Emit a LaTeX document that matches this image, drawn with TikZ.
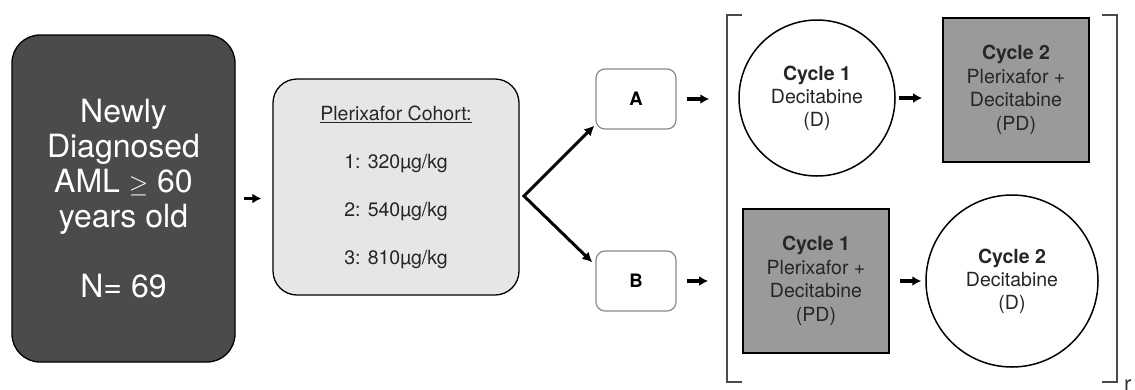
\documentclass[tikz,border=0pt]{standalone}
\usepackage{fontspec}
\setmainfont{TeX Gyre Heros}
\usetikzlibrary{arrows.meta,calc}
\definecolor{darkfill}{HTML}{4B4B4B}
\definecolor{lightfill}{HTML}{E6E6E6}
\definecolor{midfill}{HTML}{9A9A9A}
\definecolor{abborder}{HTML}{8A8A8A}
\definecolor{bracketcol}{HTML}{4A4A4A}
\begin{document}
\begin{tikzpicture}[x=1pt,y=-1pt,
  darkbox/.style={draw=black,line width=1.3pt,fill=darkfill,rounded corners=28pt,
    minimum width=223pt,minimum height=327pt,inner sep=0pt,text=white,align=center,
    font=\fontsize{32}{35}\selectfont},
  cohortbox/.style={draw=black,line width=1.3pt,fill=lightfill,rounded corners=24pt,
    minimum width=246pt,minimum height=216pt,inner sep=0pt,align=center,text=black!85,
    font=\fontsize{19.5}{48}\selectfont},
  armbox/.style={draw=abborder,line width=1.2pt,fill=white,rounded corners=9pt,
    minimum width=80pt,minimum height=60pt,inner sep=0pt,font=\fontsize{18.5}{20}\selectfont\bfseries},
  dcircle/.style={circle,draw=black,line width=1.5pt,fill=white,inner sep=0pt,align=center,
    text=black!85,font=\fontsize{19.5}{23}\selectfont},
  pdsquare/.style={draw=black,line width=1.8pt,fill=midfill,inner sep=0pt,align=center,
    minimum width=146pt,minimum height=144pt,text=black!85,font=\fontsize{19.5}{23.5}\selectfont},
  flow/.style={line width=3.2pt,-{Latex[length=9pt,width=10pt]}},
  branch/.style={line width=3pt,{Latex[length=10pt,width=10pt]}-{Latex[length=10pt,width=10pt]}},
  bracket/.style={draw=bracketcol,line width=1.4pt}
]
\useasboundingbox (0,0) rectangle (1135,389);

\node[darkbox] (aml) at (123.5,198.5) {Newly\\Diagnosed\\AML $\geq$ 60\\years old\\[35pt]N= 69};

\node[cohortbox] (cohort) at (396,187) {\underline{Plerixafor Cohort:}\\1: 320µg/kg\\2: 540µg/kg\\3: 810µg/kg};

\node[armbox] (A) at (636,99) {A};
\node[armbox] (B) at (636,281) {B};

\node[dcircle,minimum size=156pt] (c1A) at (817,98) {\textbf{Cycle 1}\\Decitabine\\(D)};
\node[pdsquare] (c2A) at (1016,90) {\textbf{Cycle 2}\\Plerixafor +\\Decitabine\\(PD)};
\node[pdsquare] (c1B) at (816,281) {\textbf{Cycle 1}\\Plerixafor +\\Decitabine\\(PD)};
\node[dcircle,minimum size=172pt] (c2B) at (1012,281) {\textbf{Cycle 2}\\Decitabine\\(D)};

\coordinate (fork) at (524,196);

\draw[flow,shorten <=8pt,shorten >=11pt] (aml.east) -- (aml.east -| cohort.west);
\draw[branch,line join=miter] ([xshift=-1pt,yshift=4pt]A.south west) -- (fork) -- ([xshift=-3pt,yshift=-12pt]B.north west);
\draw[flow,shorten <=10pt,shorten >=29pt] (A.east) -- (A.east -| c1A.west);
\draw[flow,shorten <=10pt,shorten >=34pt] (B.east) -- (B.east -| c1B.west);
\draw[flow,shorten <=3pt,shorten >=20pt] (c1A.east) -- (c1A.east -| c2A.west);
\draw[flow,shorten <=10pt,shorten >=4pt] (c1B.east |- c2B.west) -- (c2B.west);

\draw[bracket] (742,15) -- (727,15) -- (727,382) -- (742,382);
\draw[bracket] (1102,15) -- (1117,15) -- (1117,382) -- (1102,382);

\node[anchor=base west,inner sep=0pt,text=black!80,font=\fontsize{22}{22}\selectfont] (rmark) at (1124,391) {r};
\end{tikzpicture}
\end{document}
